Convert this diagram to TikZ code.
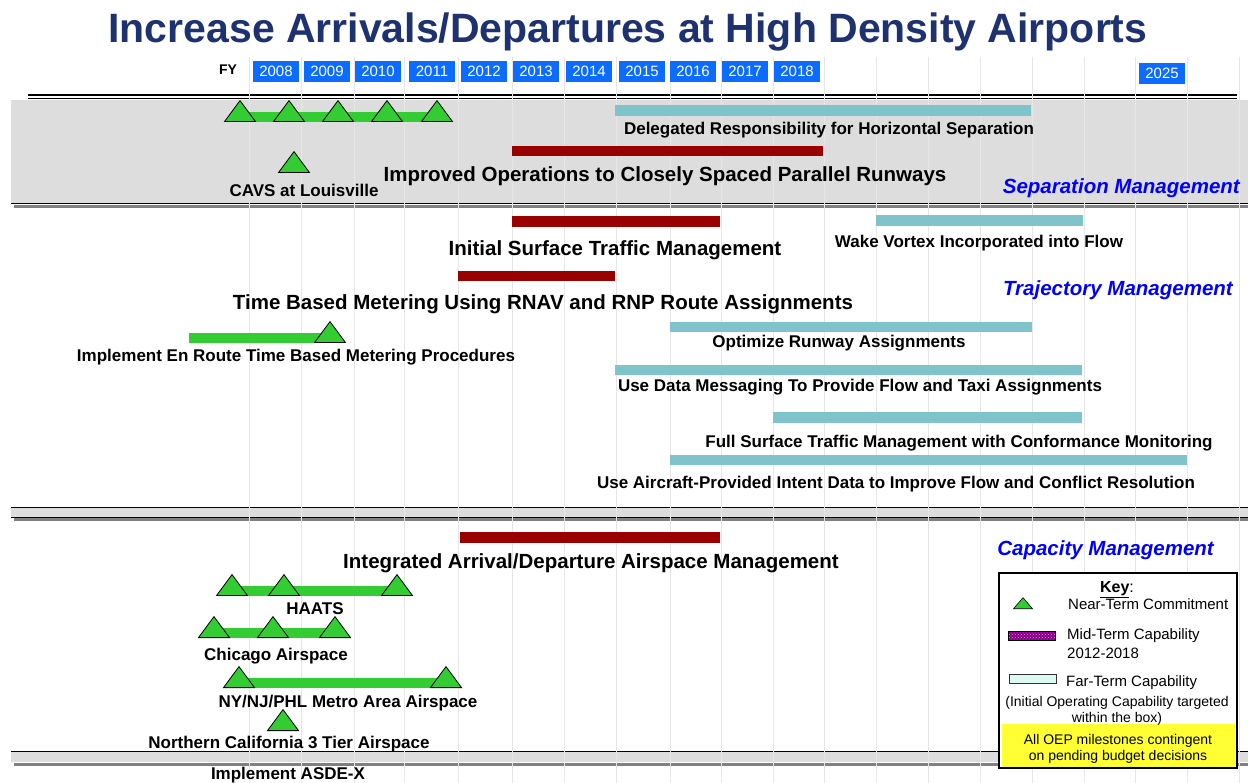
\documentclass[tikz,border=0pt]{standalone}
\usepackage{fontspec}
\setmainfont{Liberation Sans}
\usetikzlibrary{shapes.geometric,patterns}

\definecolor{titleblue}{RGB}{31,50,112}
\definecolor{yearblue}{RGB}{12,108,255}
\definecolor{bandgray}{RGB}{221,221,221}
\definecolor{shadowgray}{RGB}{128,128,128}
\definecolor{gridgray}{RGB}{230,230,230}
\definecolor{farteal}{RGB}{127,196,203}
\definecolor{midred}{RGB}{153,0,0}
\definecolor{msgreen}{RGB}{51,204,51}
\definecolor{keypurple}{RGB}{130,0,130}
\definecolor{keypale}{RGB}{221,250,242}
\definecolor{noteyellow}{RGB}{255,255,51}

\pgfdeclarelayer{bg}
\pgfdeclarelayer{mid}
\pgfsetlayers{bg,mid,main}

\tikzset{
  lbl/.style={font=\bfseries\fontsize{17}{20}\selectfont, inner sep=0pt, anchor=base},
  biglbl/.style={font=\bfseries\fontsize{20.5}{24}\selectfont, inner sep=0pt, anchor=base},
  area/.style={font=\bfseries\itshape\fontsize{20.5}{24}\selectfont, text=blue, inner sep=0pt, anchor=base east},
  yearbox/.style={fill=yearblue, text=white, minimum width=46pt, minimum height=21pt, inner sep=0pt, font=\fontsize{15}{18}\selectfont},
  ms/.style={isosceles triangle, shape border rotate=90, isosceles triangle stretches, minimum width=31pt, minimum height=21pt, inner sep=0pt, fill=msgreen, draw=black, line width=0.8pt, anchor=south},
  nearbar/.style={msgreen, line width=10pt},
  farbar/.style={fill=farteal},
  midbar/.style={fill=midred},
  keytxt/.style={font=\fontsize{15}{18}\selectfont, inner sep=0pt, anchor=base west},
  notetxt/.style={font=\fontsize{14}{17}\selectfont, inner sep=0pt, anchor=base},
}

\begin{document}
\begin{tikzpicture}[x=1pt,y=-1pt]
  \useasboundingbox (0,0) rectangle (1248,783);

  % title and fiscal years
  \node[font=\bfseries\fontsize{41}{46}\selectfont, text=titleblue, inner sep=0pt, anchor=base] (title) at (628,43) {Increase Arrivals/Departures at High Density Airports};
  \node[font=\bfseries\fontsize{14}{16}\selectfont, inner sep=0pt, anchor=base] (fy) at (228,75) {FY};
  \foreach \yr/\cx in {2008/276,2009/327,2010/378,2011/432,2012/484,2013/536,2014/589,2015/642,2016/693,2017/745,2018/797}
    \node[yearbox] (y\yr) at (\cx,71.5) {\yr};
  \node[yearbox] (y2025) at (1162,73.5) {2025};

  % bands and grid
  \begin{pgfonlayer}{bg}
    \draw[line width=1.2pt] (28,95) -- (1237,95) (28,98.5) -- (1237,98.5);
    \fill[bandgray] (11,100) rectangle (1248,203);
    \draw[line width=1pt] (11,203.5) -- (1248,203.5);
    \draw[shadowgray, line width=3pt] (14,206.5) -- (1248,206.5);
    \fill[bandgray] (11,507.5) rectangle (1248,517);
    \draw[line width=1pt] (11,507.5) -- (1248,507.5) (11,517) -- (1248,517);
    \draw[shadowgray, line width=3pt] (14,519.5) -- (1248,519.5);
    \fill[bandgray] (11,751) rectangle (1248,762);
    \draw[line width=1pt] (11,751) -- (1248,751);
    \draw[shadowgray, line width=3pt] (14,764) -- (1248,764);
    \foreach \gx in {249,301,354,404,458,512,564,616,670,721,773,824,876,928,980,1032,1084,1135,1187,1239}
      \draw[gridgray, line width=0.8pt] (\gx,57) -- (\gx,783);
  \end{pgfonlayer}

  % separation management
  \node[ms] (s1) at (240,122) {};
  \node[ms] (s2) at (289,122) {};
  \node[ms] (s3) at (338,122) {};
  \node[ms] (s4) at (387,122) {};
  \node[ms] (s5) at (437,122) {};
  \node[ms] (cavs) at (294,173) {};
  \begin{pgfonlayer}{mid}
    \draw[nearbar] ([yshift=5pt]s1.south) -- ([yshift=5pt]s5.south);
    \path[farbar] (615,105) rectangle (1031,116);
    \path[midbar] (512,146) rectangle (823,156);
  \end{pgfonlayer}
  \node[lbl] (delegated) at (829,135) {Delegated Responsibility for Horizontal Separation};
  \node[biglbl] (improved) at (665,182) {Improved Operations to Closely Spaced Parallel Runways};
  \node[lbl] (cavslbl) at (304,197) {CAVS at Louisville};
  \node[area] (sepmgmt) at (1240,194) {Separation Management};

  % trajectory management
  \node[ms] (er1) at (330,343) {};
  \coordinate (er0) at (189,338);
  \begin{pgfonlayer}{mid}
    \draw[nearbar] (er0) -- ([yshift=5pt]er1.south);
    \path[midbar] (512,216) rectangle (720,227);
    \path[farbar] (876,215) rectangle (1083,226);
    \path[midbar] (458,271) rectangle (615,281);
    \path[farbar] (670,322) rectangle (1032,332);
    \path[farbar] (615,365) rectangle (1082,375);
    \path[farbar] (773,412) rectangle (1082,423);
    \path[farbar] (670,455) rectangle (1187,465);
  \end{pgfonlayer}
  \node[biglbl] (surface) at (615,256) {Initial Surface Traffic Management};
  \node[lbl] (wake) at (979,248) {Wake Vortex Incorporated into Flow};
  \node[biglbl] (tbm) at (543,310) {Time Based Metering Using RNAV and RNP Route Assignments};
  \node[area] (trajmgmt) at (1233,296) {Trajectory Management};
  \node[lbl] (enroute) at (296,362) {Implement En Route Time Based Metering Procedures};
  \node[lbl] (runway) at (839,348) {Optimize Runway Assignments};
  \node[lbl] (datamsg) at (860,392) {Use Data Messaging To Provide Flow and Taxi Assignments};
  \node[lbl] (fullsurf) at (959,447) {Full Surface Traffic Management with Conformance Monitoring};
  \node[lbl] (intent) at (896,488) {Use Aircraft-Provided Intent Data to Improve Flow and Conflict Resolution};

  % capacity management
  \node[ms] (h1) at (232,596) {};
  \node[ms] (h2) at (284,596) {};
  \node[ms] (h3) at (397,596) {};
  \node[ms] (c1) at (214,638) {};
  \node[ms] (c2) at (273,638) {};
  \node[ms] (c3) at (335,638) {};
  \node[ms] (n1) at (239,688) {};
  \node[ms] (n2) at (446,688) {};
  \node[ms] (nc) at (283,731) {};
  \begin{pgfonlayer}{mid}
    \path[midbar] (460,532) rectangle (720,543);
    \draw[nearbar] ([yshift=5pt]h1.south) -- ([yshift=5pt]h3.south);
    \draw[nearbar] ([yshift=5pt]c1.south) -- ([yshift=5pt]c3.south);
    \draw[nearbar] ([yshift=5pt]n1.south) -- ([yshift=5pt]n2.south);
  \end{pgfonlayer}
  \node[biglbl] (iadam) at (591,568) {Integrated Arrival/Departure Airspace Management};
  \node[area] (capmgmt) at (1214,555) {Capacity Management};
  \node[lbl] (haats) at (315,614) {HAATS};
  \node[lbl] (chicago) at (276,660) {Chicago Airspace};
  \node[lbl] (nynj) at (348,707) {NY/NJ/PHL Metro Area Airspace};
  \node[lbl] (norcal) at (289,748) {Northern California 3 Tier Airspace};
  \node[lbl] (asdex) at (288,779) {Implement ASDE-X};

  % key
  \draw[fill=white, line width=1.2pt] (999,573) rectangle (1237,768);
  \fill[noteyellow] (1002,724) rectangle (1235,767);
  \node[font=\fontsize{16}{19}\selectfont, inner sep=0pt, anchor=base] (keyhead) at (1117,592) {\textbf{\underline{Key}}:};
  \node[ms, minimum width=19pt, minimum height=11pt, line width=0.6pt] (keyms) at (1023,609) {};
  \node[keytxt] (keynear) at (1068,609) {Near-Term Commitment};
  \fill[keypurple] (1008,631) rectangle (1055,640);
  \fill[pattern=crosshatch dots, pattern color=magenta!55] (1008,631) rectangle (1055,640);
  \draw[line width=0.8pt] (1008,631) rectangle (1055,640);
  \node[keytxt] (keymid) at (1067,639) {Mid-Term Capability};
  \node[keytxt] (keymidyr) at (1067,658) {2012-2018};
  \draw[fill=keypale, draw=black!80, line width=0.8pt] (1009,674) rectangle (1056,683);
  \node[keytxt] (keyfar) at (1066,686) {Far-Term Capability};
  \node[notetxt] (ioc1) at (1117,706) {(Initial Operating Capability targeted};
  \node[notetxt] (ioc2) at (1117,722) {within the box)};
  \node[notetxt] (oep1) at (1118,744) {All OEP milestones contingent};
  \node[notetxt] (oep2) at (1118,760) {on pending budget decisions};
\end{tikzpicture}
\end{document}
